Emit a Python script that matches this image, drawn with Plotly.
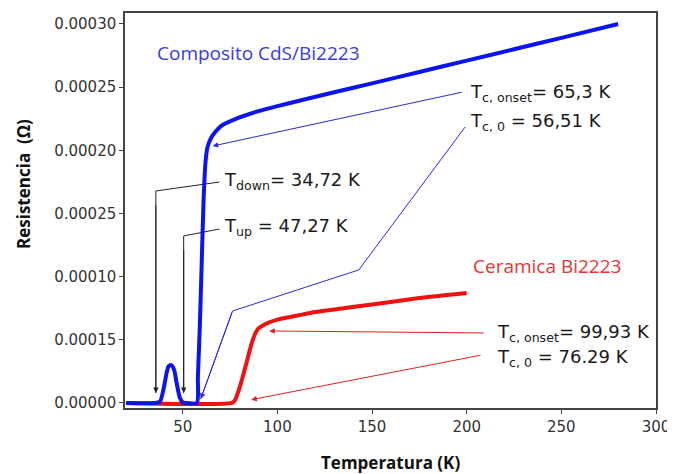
import plotly.graph_objects as go

# ---- data ----
comp_T = [20, 35, 38, 40, 41.5, 42.5, 44, 45.5, 47, 48.5, 50, 52, 57.5, 58, 59, 60, 61, 62, 63, 65,
          70, 80, 90, 100, 111, 130, 150, 175, 200, 225, 250, 280]
comp_R = [0, 0, 0.000001, 0.000012, 0.000024, 0.000029, 0.00003, 0.000026, 0.000014, 0.000004, 0.0000005, 0,
          0, 0.00002, 0.00006, 0.00011, 0.00016, 0.00019, 0.000202, 0.00021,
          0.000219, 0.000226, 0.000231, 0.000235, 0.000239, 0.000246, 0.000253, 0.000262, 0.000271,
          0.00028, 0.000289, 0.0003]
cer_T = [20, 76, 77.5, 80, 83, 86, 88, 90, 93, 96, 100, 110, 120, 135, 150, 175, 200]
cer_R = [0, 0, 0.000002, 0.000012, 0.000028, 0.000045, 0.000054, 0.000059, 0.000062, 0.000064, 0.000066,
         0.000069, 0.000072, 0.000075, 0.000078, 0.000083, 0.000087]

y_tickvals = [0, 0.00005, 0.0001, 0.00015, 0.0002, 0.00025, 0.0003]
y_ticktext = ["0.00000", "0.00015", "0.00010", "0.00025", "0.00020", "0.00025", "0.00030"]
x_tickvals = [50, 100, 150, 200, 250, 300]

# annotation connector paths (T, R)
tc0_blue_path_T = [199.2, 143.0, 76.3]
tc0_blue_path_R = [2.185e-4, 1.053e-4, 7.28e-5]
tc0_blue_head = (59.5, 3.2e-6)
tdown_path_T = [69.4, 35.8]
tdown_path_R = [1.749e-4, 1.678e-4]
tdown_head = (35.8, 7.9e-6)
tup_path_T = [69.4, 50.5]
tup_path_R = [1.377e-4, 1.322e-4]
tup_head = (50.5, 7.9e-6)
onset_blue_tail = (198.1, 2.462e-4)
onset_blue_head = (65.8, 2.034e-4)
onset_red_tail = (209.7, 5.54e-5)
onset_red_head = (95.7, 5.7e-5)
tc0_red_tail = (208.1, 3.8e-5)
tc0_red_head = (86.2, 2.6e-6)

BLUE = "#0a14f0"
RED = "#f01010"
THIN_BLUE = "#2a2ad8"
THIN_RED = "#e02020"

# page offset (browser body margin) compensation
OFF = 8
W, H = 675 - OFF, 474 - OFF
L, R_, T_, B = 125 - OFF, 19, 13 - OFF, 66

fig = go.Figure()

fig.add_trace(go.Scatter(x=tc0_blue_path_T + [tc0_blue_head[0]], y=tc0_blue_path_R + [tc0_blue_head[1]],
                         mode="lines", line=dict(color=THIN_BLUE, width=1), hoverinfo="skip", showlegend=False))
fig.add_trace(go.Scatter(x=tdown_path_T + [tdown_head[0]], y=tdown_path_R + [tdown_head[1]],
                         mode="lines", line=dict(color="#222", width=1), hoverinfo="skip", showlegend=False))
fig.add_trace(go.Scatter(x=tup_path_T + [tup_head[0]], y=tup_path_R + [tup_head[1]],
                         mode="lines", line=dict(color="#222", width=1), hoverinfo="skip", showlegend=False))

fig.add_trace(go.Scatter(x=cer_T, y=cer_R, mode="lines", line=dict(color=RED, width=4, shape="spline", smoothing=0.6),
                         showlegend=False))
fig.add_trace(go.Scatter(x=comp_T, y=comp_R, mode="lines", line=dict(color=BLUE, width=4, shape="spline", smoothing=0.6),
                         showlegend=False))

def arrow(head, tail, color):
    fig.add_annotation(x=head[0], y=head[1], ax=tail[0], ay=tail[1], xref="x", yref="y", axref="x", ayref="y",
                       showarrow=True, arrowhead=2, arrowsize=1.1, arrowwidth=1, arrowcolor=color, text="")

arrow(tc0_blue_head, (tc0_blue_path_T[-1], tc0_blue_path_R[-1]), THIN_BLUE)
arrow(tdown_head, (tdown_path_T[-1], tdown_path_R[-1] - 1e-5), "#222")
arrow(tup_head, (tup_path_T[-1], tup_path_R[-1] - 1e-5), "#222")
arrow(onset_blue_head, onset_blue_tail, THIN_BLUE)
arrow(onset_red_head, onset_red_tail, THIN_RED)
arrow(tc0_red_head, tc0_red_tail, THIN_RED)

def label(x, y, text, color="#1a1a1a", size=18, anchor="left", family="DejaVu Sans"):
    fig.add_annotation(x=x, y=y, xref="x", yref="y", text=text, showarrow=False, xanchor=anchor, yanchor="middle",
                       font=dict(family=family, size=size, color=color))

label(200.7, 2.454e-4, "T<sub>c, onset</sub>= 65,3 K")
label(200.7, 2.224e-4, "T<sub>c, 0</sub> = 56,51 K")
label(70.5, 1.757e-4, "T<sub>down</sub>= 34,72 K")
label(70.5, 1.393e-4, "T<sub>up</sub> = 47,27 K")
label(214.9, 5.54e-5, "T<sub>c, onset</sub>= 99,93 K")
label(214.9, 3.56e-5, "T<sub>c, 0</sub> = 76.29 K")
label(89.9, 2.77e-4, "Composito CdS/Bi2223", color="#3a3ae6", size=19, anchor="center", family="Open Sans")
label(242.2, 1.084e-4, "Ceramica Bi2223", color="#e83535", size=19, anchor="center", family="Open Sans")

pw = W - L - R_
ph = H - T_ - B

def page_to_paper(px, py):
    return ((px - OFF) - L) / pw, (H - (py - OFF) - B) / ph

yx, yy = page_to_paper(23, 184)
fig.add_annotation(x=yx, y=yy, xref="paper", yref="paper", text="<b>Resistencia  (Ω)</b>", textangle=-90,
                   xanchor="center", yanchor="middle",
                   showarrow=False, font=dict(family="Open Sans", size=17, color="#111"))
tx, ty = page_to_paper(390, 462)
fig.add_annotation(x=tx, y=ty, xref="paper", yref="paper", text="<b>Temperatura (K)</b>",
                   xanchor="center", yanchor="middle",
                   showarrow=False, font=dict(family="Open Sans", size=17, color="#111"))

fig.update_layout(
    width=W, height=H,
    margin=dict(l=L, r=R_, t=T_, b=B, autoexpand=False),
    paper_bgcolor="white", plot_bgcolor="white",
    xaxis=dict(range=[19.5, 300], tickvals=x_tickvals, showgrid=False, zeroline=False, automargin=False,
               showline=True, mirror=True, linecolor="#444", linewidth=1.5, ticks="outside", ticklen=4,
               tickcolor="#444", tickfont=dict(family="DejaVu Sans", size=15, color="#333")),
    yaxis=dict(range=[-4e-6, 3.087e-4], tickvals=y_tickvals, ticktext=y_ticktext, showgrid=False, zeroline=False,
               automargin=False,
               showline=True, mirror=True, linecolor="#444", linewidth=1.5, ticks="outside", ticklen=4,
               tickcolor="#444", tickfont=dict(family="DejaVu Sans", size=15, color="#333")),
)

fig.write_html("out.html")
